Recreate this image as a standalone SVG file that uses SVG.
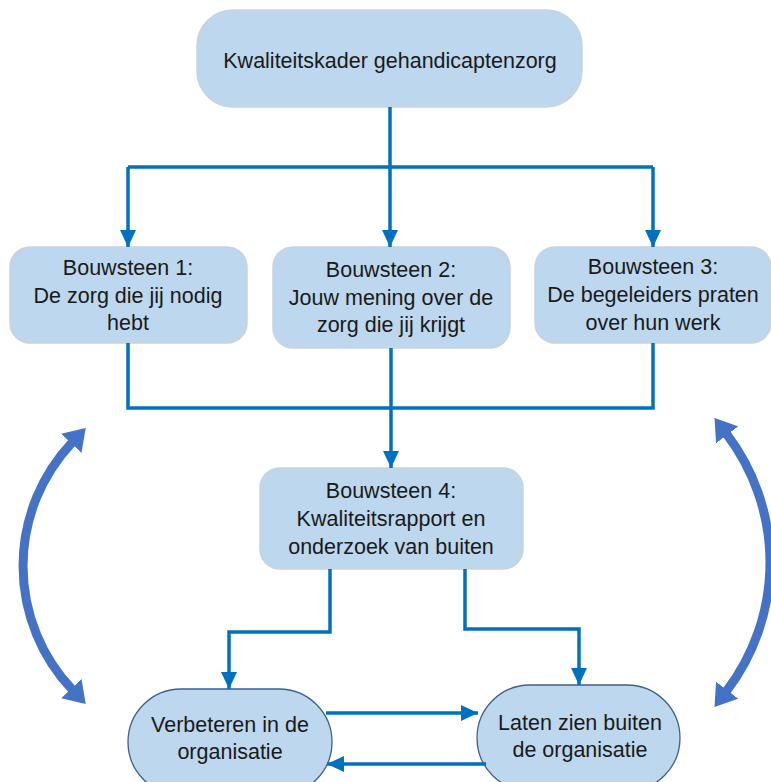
<svg xmlns="http://www.w3.org/2000/svg" width="771" height="782" viewBox="0 0 771 782">
<style>
.box{fill:#BDD7EE;stroke:#C9D2DC;stroke-width:1.5}
.oval{fill:#BDD7EE;stroke:#3E5F8A;stroke-width:1.3}
.t{font-family:"Liberation Sans",Arial,sans-serif;font-size:21.5px;fill:#1a1a1a;text-anchor:middle}
.c{fill:none;stroke:#0070C0;stroke-width:3.5}
.big{fill:none;stroke:#4472C4;stroke-width:9}
</style>
<defs>
<marker id="ah" markerUnits="userSpaceOnUse" viewBox="0 0 17 16" refX="17" refY="8" markerWidth="17" markerHeight="16" orient="auto">
<path d="M0,0 L17,8 L0,16 z" fill="#0070C0"/>
</marker>
<marker id="bh" markerUnits="userSpaceOnUse" viewBox="0 0 21 28" refX="1" refY="14" markerWidth="21" markerHeight="28" orient="auto-start-reverse">
<path d="M0,0 L21,14 L0,28 z" fill="#4472C4"/>
</marker>
</defs>
<rect width="771" height="782" fill="#fff"/>
<g id="top"><rect class="box" x="197" y="10" width="385" height="97" rx="36"/><text class="t" x="390" y="68">Kwaliteitskader gehandicaptenzorg</text></g>
<g id="b1"><rect class="box" x="10" y="247" width="237" height="96" rx="20"/><text class="t" x="128" y="275">Bouwsteen 1:</text><text class="t" x="128" y="303">De zorg die jij nodig</text><text class="t" x="128" y="330">hebt</text></g>
<g id="b2"><rect class="box" x="273" y="247" width="237" height="101" rx="20"/><text class="t" x="391" y="277">Bouwsteen 2:</text><text class="t" x="391" y="305">Jouw mening over de</text><text class="t" x="391" y="332">zorg die jij krijgt</text></g>
<g id="b3"><rect class="box" x="535" y="247" width="236" height="96" rx="20"/><text class="t" x="653" y="274">Bouwsteen 3:</text><text class="t" x="653" y="302">De begeleiders praten</text><text class="t" x="653" y="330">over hun werk</text></g>
<g id="b4"><rect class="box" x="260" y="468" width="263" height="101" rx="20"/><text class="t" x="391" y="498">Bouwsteen 4:</text><text class="t" x="391" y="526">Kwaliteitsrapport en</text><text class="t" x="391" y="554">onderzoek van buiten</text></g>
<g id="verbeteren"><rect class="oval" x="128" y="689" width="204" height="106" rx="53"/><text class="t" x="230" y="732">Verbeteren in de</text><text class="t" x="230" y="759">organisatie</text></g>
<g id="laten"><rect class="oval" x="477" y="685" width="203" height="106" rx="53"/><text class="t" x="580" y="730">Laten zien buiten</text><text class="t" x="580" y="757">de organisatie</text></g>
<g id="connectors">
<path class="c" d="M390 107 V247" marker-end="url(#ah)"/>
<path class="c" d="M128 167 H653"/>
<path class="c" d="M128 167 V247" marker-end="url(#ah)"/>
<path class="c" d="M653 167 V247" marker-end="url(#ah)"/>
<path class="c" d="M128 343 V408 H653 V343"/>
<path class="c" d="M391 348 V468" marker-end="url(#ah)"/>
<path class="c" d="M330 569 V632 H229 V689" marker-end="url(#ah)"/>
<path class="c" d="M465 569 V629 H579 V685" marker-end="url(#ah)"/>
<path class="c" d="M326 713 H478" marker-end="url(#ah)"/>
<path class="c" d="M486 764 H327" marker-end="url(#ah)"/>
<path class="big" d="M72 442.6 A180 180 0 0 0 72 689.4" marker-start="url(#bh)" marker-end="url(#bh)"/>
<path class="big" d="M726.6 434 A212 212 0 0 1 726.6 691" marker-start="url(#bh)" marker-end="url(#bh)"/>
</g>
</svg>
